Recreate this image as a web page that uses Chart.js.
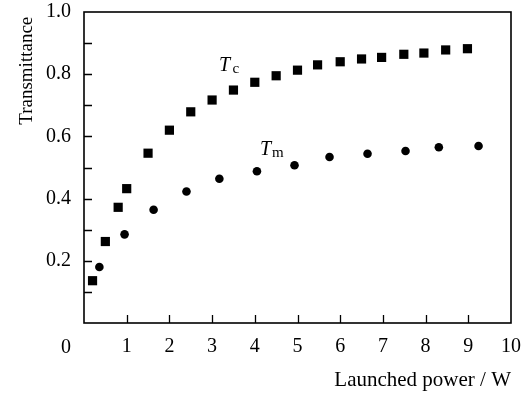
<!DOCTYPE html>
<html>
<head>
<meta charset="utf-8">
<script src="https://cdn.jsdelivr.net/npm/chart.js@4.4.1/dist/chart.umd.min.js"></script>
<style>
  html, body { margin: 0; padding: 0; background: #fff; }
  #wrap { width: 527px; height: 394px; }
</style>
</head>
<body>
<div id="wrap"><canvas id="chart"></canvas></div>
<script>
'use strict';

// Tc (squares) – launched power (W) vs transmittance
const tcPower = [0.2, 0.5, 0.8, 1.0, 1.5, 2.0, 2.5, 3.0, 3.5, 4.0, 4.5, 5.0, 5.47, 6.0, 6.5, 6.97, 7.49, 7.96, 8.47, 8.98];
const tcTrans = [0.136, 0.262, 0.372, 0.432, 0.546, 0.62, 0.679, 0.717, 0.749, 0.774, 0.795, 0.813, 0.83, 0.84, 0.849, 0.854, 0.864, 0.868, 0.878, 0.882];

// Tm (circles)
const tmPower = [0.36, 0.95, 1.63, 2.4, 3.17, 4.05, 4.93, 5.75, 6.64, 7.53, 8.31, 9.24];
const tmTrans = [0.18, 0.285, 0.364, 0.423, 0.464, 0.488, 0.507, 0.534, 0.544, 0.553, 0.565, 0.569];

const xTicks = [1, 2, 3, 4, 5, 6, 7, 8, 9, 10];
const yLabels = [0.2, 0.4, 0.6, 0.8, 1.0];

const FONT = '"Liberation Serif", "DejaVu Serif", serif';

const pts = (xs, ys) => xs.map((x, i) => ({ x, y: ys[i] }));

// inward ticks, frame box, origin "0" and curve labels
const framePlugin = {
  id: 'frame',
  afterDraw(chart) {
    const { ctx, chartArea: a, scales: { x, y } } = chart;
    ctx.save();
    ctx.strokeStyle = '#000';
    ctx.lineWidth = 1.3;
    ctx.beginPath();
    for (let v = 1; v <= 9; v++) {
      const px = Math.round(x.getPixelForValue(v)) + 0.5;
      ctx.moveTo(px, a.bottom); ctx.lineTo(px, a.bottom - 8);
    }
    for (let k = 1; k <= 9; k++) {
      const py = Math.round(y.getPixelForValue(k / 10)) + 0.5;
      ctx.moveTo(a.left, py); ctx.lineTo(a.left + 8, py);
    }
    ctx.stroke();
    ctx.lineWidth = 1.6;
    ctx.strokeRect(a.left, a.top, a.right - a.left, a.bottom - a.top);

    ctx.fillStyle = '#000';
    ctx.textBaseline = 'alphabetic';
    ctx.textAlign = 'center';
    ctx.font = '20px ' + FONT;
    ctx.fillText('0', 66, 353);

    ctx.textAlign = 'left';
    ctx.font = 'italic 20px ' + FONT;
    ctx.fillText('T', 219, 71);
    ctx.fillText('T', 260, 155);
    ctx.font = '15px ' + FONT;
    ctx.fillText('c', 232.5, 73);
    ctx.fillText('m', 272, 157);
    ctx.restore();
  }
};

new Chart(document.getElementById('chart').getContext('2d'), {
  type: 'scatter',
  data: {
    datasets: [
      { label: 'Tc', data: pts(tcPower, tcTrans), pointStyle: 'rect',
        pointRadius: 6.5, backgroundColor: '#000', borderWidth: 0 },
      { label: 'Tm', data: pts(tmPower, tmTrans), pointStyle: 'circle',
        pointRadius: 4.3, backgroundColor: '#000', borderWidth: 0 },
    ]
  },
  options: {
    responsive: true,
    maintainAspectRatio: false,
    animation: false,
    events: [],
    layout: { padding: { left: 0, top: 12, right: 16, bottom: 0 } },
    plugins: { legend: { display: false }, tooltip: { enabled: false } },
    scales: {
      x: {
        type: 'linear', min: 0, max: 10,
        afterFit: s => { s.height = 71; s.paddingLeft = 0; s.paddingRight = 0; },
        afterBuildTicks: s => { s.ticks = [0, ...xTicks].map(v => ({ value: v })); },
        grid: { display: false, drawTicks: false },
        border: { display: false },
        ticks: {
          color: '#000', font: { family: FONT, size: 20 }, padding: 12, maxRotation: 0,
          callback: v => (v === 0 ? '' : String(v))
        },
        title: {
          display: true, text: 'Launched power / W', align: 'end', color: '#000',
          font: { family: FONT, size: 21 }, padding: { top: 0, bottom: 1 }
        }
      },
      y: {
        type: 'linear', min: 0, max: 1,
        afterFit: s => { s.width = 84; s.paddingTop = 0; s.paddingBottom = 0; },
        afterBuildTicks: s => { s.ticks = yLabels.map(v => ({ value: v })); },
        grid: { display: false, drawTicks: false },
        border: { display: false },
        ticks: {
          color: '#000', font: { family: FONT, size: 20 }, padding: 13,
          callback: v => v.toFixed(1)
        },
        title: {
          display: true, text: 'Transmittance ', align: 'end', color: '#000',
          font: { family: FONT, size: 19 }, padding: { top: 16, bottom: 0 }
        }
      }
    }
  },
  plugins: [framePlugin]
});
</script>
</body>
</html>
